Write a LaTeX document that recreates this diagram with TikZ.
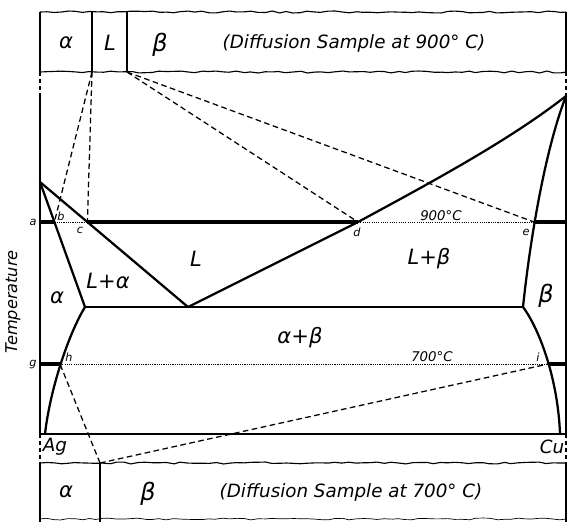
\documentclass[tikz,border=0pt]{standalone}
\usepackage{fontspec}
\setmainfont{DejaVu Sans}
\usetikzlibrary{calc,decorations.pathmorphing}

\begin{document}
\begin{tikzpicture}[x=0.025cm,y=-0.025cm,
  phline/.style={line width=1.6pt,line join=round},
  isoline/.style={line width=2.2pt},
  tieline/.style={line width=0.9pt,dash pattern=on 4pt off 2.5pt},
  dotline/.style={line width=0.7pt,dash pattern=on 0.8pt off 0.8pt},
  frameline/.style={line width=1pt},
  frametie/.style={line width=1pt,dash pattern=on 3pt off 2pt},
  wavyedge/.style={line width=0.8pt,decorate,
    decoration={random steps,segment length=5pt,amplitude=0.7pt}},
  ptlbl/.style={font=\fontsize{8}{9}\selectfont\itshape,inner sep=1pt},
  isolbl/.style={font=\fontsize{9.5}{11}\selectfont\itshape,inner sep=1pt},
  regionlbl/.style={font=\fontsize{15}{17}\selectfont\itshape,inner sep=0pt},
  samplelbl/.style={font=\fontsize{13}{15}\selectfont\itshape,inner sep=0pt}
]
  \useasboundingbox (0,0) rectangle (572,522);
  \pgfmathsetseed{7}

  % Diffusion sample at 900 C
  \coordinate (tl) at (40,12);
  \coordinate (tr) at (566,12);
  \coordinate (bl) at (40,72);
  \coordinate (br) at (566,72);
  \coordinate (tdivA) at (92,12);
  \coordinate (tdivAb) at (92,72);
  \coordinate (tdivL) at (127,12);
  \coordinate (tdivLb) at (127,72);
  \draw[wavyedge] (tl) -- (tr);
  \draw[wavyedge] (bl) -- (br);
  \draw[frameline] (tl) -- (bl);
  \draw[frameline] (tr) -- (br);
  \draw[line width=1.3pt] (tdivA) -- (tdivAb);
  \draw[line width=1.3pt] (tdivL) -- (tdivLb);
  \node[regionlbl] (topalpha) at (66,43) {α};
  \node[regionlbl] (topliq) at (110,43) {L};
  \node[regionlbl,font=\fontsize{17}{19}\selectfont\itshape] (topbeta) at (160,45) {β};
  \node[samplelbl] (toptitle) at (354,43) {(Diffusion Sample at 900° C)};

  % key points of the phase diagram
  \coordinate (AgM) at (40,182);
  \coordinate (CuM) at (566,96);
  \coordinate (eut) at (188,307);
  \coordinate (aeut) at (85,307);
  \coordinate (beut) at (523,307);
  \coordinate (a) at (40,222);
  \coordinate (b) at (54.4,222);
  \coordinate (c) at (87.4,222);
  \coordinate (d) at (358,222);
  \coordinate (e) at (534,222);
  \coordinate (f) at (566,222);
  \coordinate (g) at (40,364);
  \coordinate (h) at (60,364);
  \coordinate (i) at (548,364);
  \coordinate (j) at (566,364);
  \coordinate (Ag) at (40,434);
  \coordinate (Cu) at (566,434);
  \coordinate (AgS) at (45,434);
  \coordinate (CuS) at (560,434);
  \coordinate (lfoot) at (40,463);
  \coordinate (rfoot) at (566,463);
  \coordinate (ltop) at (40,96);

  % frame
  \draw[frametie] (bl) -- (ltop);
  \draw[frameline] (ltop) -- (Ag);
  \draw[frametie] (Ag) -- (lfoot);
  \draw[frametie] (br) -- (CuM);
  \draw[frameline] (CuM) -- (Cu);
  \draw[frametie] (Cu) -- (rfoot);
  \draw[line width=1.3pt] (Ag) -- (Cu);

  % phase boundaries
  \draw[phline] (AgM) -- (aeut);
  \draw[phline] (AgM) -- (eut);
  \draw[phline] (eut) -- (d) .. controls (430,183) and (510,140) .. (CuM);
  \draw[phline] (beut) .. controls (530,240) and (545,150) .. (CuM);
  \draw[phline] (aeut) -- (beut);
  \draw[phline] (aeut) .. controls (68,335) and (50,390) .. (AgS);
  \draw[phline] (beut) .. controls (540,330) and (558,380) .. (CuS);

  % isotherms
  \draw[isoline] (a) -- (b);
  \draw[dotline] (b) -- (c);
  \draw[isoline] (c) -- (d);
  \draw[dotline] (d) -- (e);
  \draw[isoline] (e) -- (f);
  \draw[isoline] (g) -- (h);
  \draw[dotline] (h) -- (i);
  \draw[isoline] (i) -- (j);

  % tie lines to the samples
  \coordinate (bdiv) at (100,463);
  \coordinate (bdivb) at (100,522);
  \draw[tieline] (tdivAb) -- (b);
  \draw[tieline] (tdivAb) -- (c);
  \draw[tieline] (tdivLb) -- (d);
  \draw[tieline] (tdivLb) -- (e);
  \draw[tieline] (bdiv) -- (h);
  \draw[tieline] (bdiv) -- (i);

  % point labels
  \node[ptlbl] (alab) at (33,222) {a};
  \node[ptlbl] (blab) at (61,216) {b};
  \node[ptlbl] (clab) at (80,230) {c};
  \node[ptlbl] (dlab) at (357,232) {d};
  \node[ptlbl] (elab) at (526,232) {e};
  \node[ptlbl] (glab) at (33,365) {g};
  \node[ptlbl] (hlab) at (69,357) {h};
  \node[ptlbl] (ilab) at (538,357) {i};
  \node[isolbl] (iso900) at (441,216) {900°C};
  \node[isolbl] (iso700) at (432,357) {700°C};

  % regions
  \node[regionlbl] (alpha) at (57,298) {α};
  \node[regionlbl] (liqalpha) at (108,281) {L+α};
  \node[regionlbl] (liq) at (196,259) {L};
  \node[regionlbl] (liqbeta) at (429,259) {L+β};
  \node[regionlbl,font=\fontsize{17}{19}\selectfont\itshape] (beta) at (546,296) {β};
  \node[regionlbl] (alphabeta) at (300,338) {α+β};
  \node[samplelbl] (aglab) at (55,447) {Ag};
  \node[samplelbl] (culab) at (552,447) {Cu};
  \node[rotate=90,font=\fontsize{11.5}{13}\selectfont\itshape] (templab) at (13,302) {Temperature};

  % Diffusion sample at 700 C
  \coordinate (bbl) at (40,519);
  \coordinate (bbr) at (566,519);
  \coordinate (lbot) at (40,522);
  \coordinate (rbot) at (566,522);
  \draw[wavyedge] (lfoot) -- (rfoot);
  \draw[wavyedge,line width=0.5pt] (bbl) -- (bbr);
  \draw[frameline] (lfoot) -- (lbot);
  \draw[frameline] (rfoot) -- (rbot);
  \draw[line width=1.3pt] (bdiv) -- (bdivb);
  \node[regionlbl] (botalpha) at (66,492) {α};
  \node[regionlbl,font=\fontsize{17}{19}\selectfont\itshape] (botbeta) at (148,494) {β};
  \node[samplelbl] (bottitle) at (351,492) {(Diffusion Sample at 700° C)};
\end{tikzpicture}
\end{document}
